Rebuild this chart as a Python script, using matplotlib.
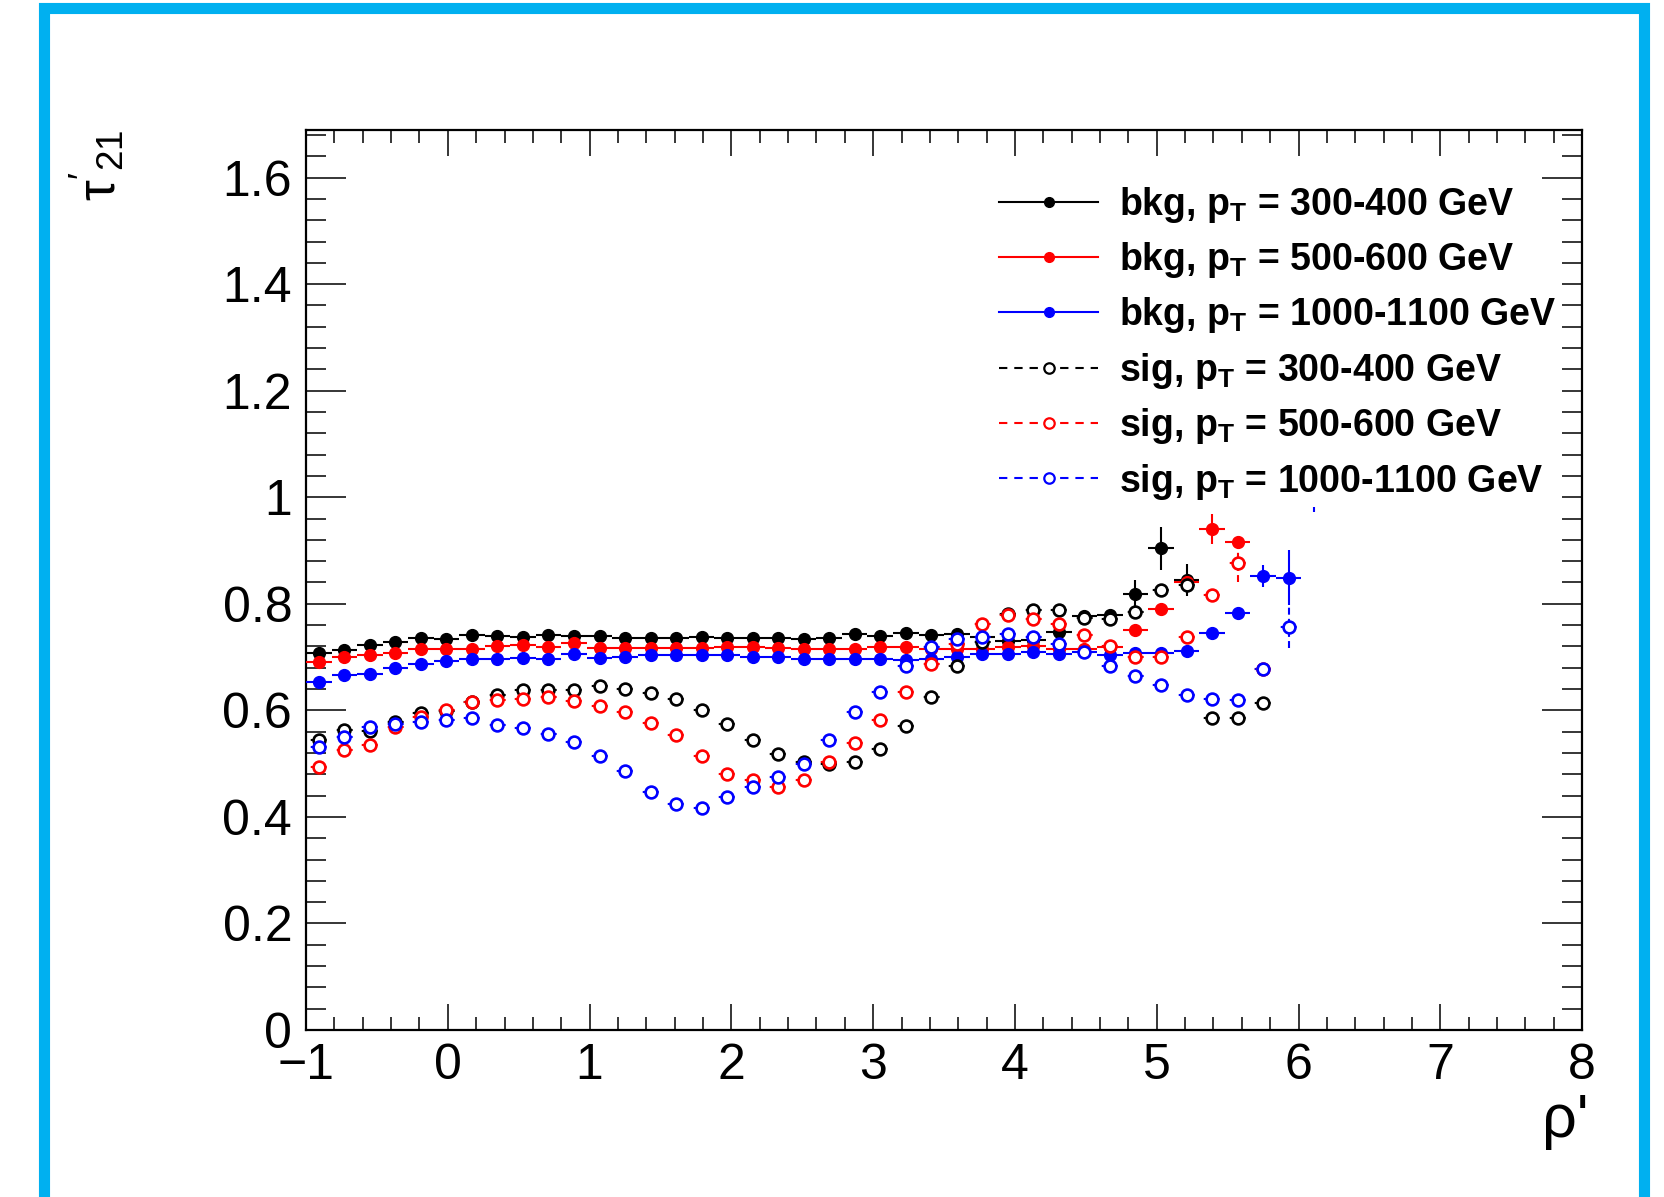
import numpy as np
import matplotlib
matplotlib.use('Agg')
import matplotlib.pyplot as plt
from matplotlib.lines import Line2D
from matplotlib.patches import Rectangle
from matplotlib.ticker import MultipleLocator

nan = float('nan')

# bin centres of rho' (50 bins from -1 to 8, only the filled ones)
rho = [-0.91, -0.73, -0.55, -0.37, -0.19, -0.01, 0.17, 0.35, 0.53, 0.71,
       0.89, 1.07, 1.25, 1.43, 1.61, 1.79, 1.97, 2.15, 2.33, 2.51,
       2.69, 2.87, 3.05, 3.23, 3.41, 3.59, 3.77, 3.95, 4.13, 4.31,
       4.49, 4.67, 4.85, 5.03, 5.21, 5.39, 5.57, 5.75, 5.93, 6.11]
half_bin = 0.09

bkg_300 = [0.707, 0.713, 0.722, 0.729, 0.735, 0.734, 0.741, 0.739, 0.737, 0.741,
           0.739, 0.739, 0.735, 0.735, 0.735, 0.737, 0.735, 0.735, 0.735, 0.734,
           0.735, 0.744, 0.739, 0.745, 0.741, 0.743, 0.737, 0.731, 0.732, 0.748,
           0.777, 0.779, 0.819, 0.904, 0.844, nan, nan, nan, nan, nan]
bkg_300_err = [0.003] * 29 + [0.005, 0.008, 0.010, 0.025, 0.040, 0.030, 0, 0, 0, 0, 0]

bkg_500 = [0.691, 0.700, 0.703, 0.707, 0.716, 0.716, 0.716, 0.720, 0.722, 0.719,
           0.727, 0.717, 0.717, 0.717, 0.717, 0.717, 0.719, 0.718, 0.717, 0.716,
           0.716, 0.716, 0.718, 0.718, 0.716, 0.715, 0.716, 0.718, 0.720, 0.716,
           0.716, 0.719, 0.750, 0.791, 0.841, 0.941, 0.916, nan, 1.126, nan]
bkg_500_err = [0.003] * 32 + [0.005, 0.008, 0.012, 0.028, 0.012, 0, 0.03, 0]

bkg_1000 = [0.654, 0.666, 0.669, 0.679, 0.687, 0.692, 0.697, 0.697, 0.699, 0.697,
            0.705, 0.699, 0.701, 0.703, 0.703, 0.703, 0.703, 0.700, 0.701, 0.697,
            0.697, 0.697, 0.697, 0.695, 0.697, 0.700, 0.705, 0.705, 0.709, 0.705,
            0.709, 0.703, 0.708, 0.708, 0.712, 0.745, 0.782, 0.852, 0.849, nan]
bkg_1000_err = [0.003] * 35 + [0.005, 0.008, 0.020, 0.052, 0]

sig_300 = [0.545, 0.563, 0.562, 0.578, 0.595, 0.599, 0.616, 0.628, 0.638, 0.638,
           0.638, 0.645, 0.641, 0.633, 0.622, 0.600, 0.575, 0.544, 0.518, 0.503,
           0.499, 0.503, 0.527, 0.570, 0.625, 0.684, 0.729, 0.780, 0.789, 0.789,
           0.774, 0.772, 0.785, 0.826, 0.835, 0.585, 0.585, 0.614, nan, nan]
sig_300_err = [0.003] * 32 + [0.008, 0.012, 0.015, 0.006, 0.006, 0.008, 0, 0]

sig_500 = [0.494, 0.525, 0.535, 0.569, 0.588, 0.600, 0.616, 0.619, 0.622, 0.625,
           0.618, 0.608, 0.597, 0.577, 0.553, 0.514, 0.480, 0.469, 0.457, 0.469,
           0.503, 0.539, 0.582, 0.635, 0.687, 0.725, 0.763, 0.779, 0.772, 0.763,
           0.741, 0.720, 0.700, 0.700, 0.738, 0.816, 0.876, 0.677, nan, nan]
sig_500_err = [0.003] * 34 + [0.006, 0.012, 0.035, 0.010, 0, 0]

sig_1000 = [0.532, 0.550, 0.569, 0.575, 0.578, 0.582, 0.585, 0.572, 0.566, 0.555,
            0.541, 0.514, 0.487, 0.447, 0.424, 0.416, 0.437, 0.457, 0.475, 0.499,
            0.544, 0.597, 0.635, 0.684, 0.719, 0.733, 0.738, 0.744, 0.738, 0.725,
            0.710, 0.684, 0.664, 0.647, 0.629, 0.622, 0.620, 0.677, 0.757, 1.022]
sig_1000_err = [0.003] * 36 + [0.006, 0.010, 0.040, 0.050]

labels = [r'bkg, p$_{\mathbf{T}}$ = 300-400 GeV',
          r'bkg, p$_{\mathbf{T}}$ = 500-600 GeV',
          r'bkg, p$_{\mathbf{T}}$ = 1000-1100 GeV',
          r'sig, p$_{\mathbf{T}}$ = 300-400 GeV',
          r'sig, p$_{\mathbf{T}}$ = 500-600 GeV',
          r'sig, p$_{\mathbf{T}}$ = 1000-1100 GeV']

plt.rcParams['font.family'] = ['Liberation Sans', 'DejaVu Sans']
plt.rcParams['mathtext.fontset'] = 'custom'
plt.rcParams['mathtext.rm'] = 'Liberation Sans'
plt.rcParams['mathtext.it'] = 'Liberation Sans:italic'
plt.rcParams['mathtext.bf'] = 'Liberation Sans:bold'
plt.rcParams['lines.scale_dashes'] = False

fig = plt.figure(figsize=(16.65, 11.97), dpi=100)
ax = fig.add_axes([0.1838, 0.1395, 0.7664, 0.7522])

series = [(bkg_300, bkg_300_err, 'black', True),
          (bkg_500, bkg_500_err, 'red', True),
          (bkg_1000, bkg_1000_err, 'blue', True),
          (sig_300, sig_300_err, 'black', False),
          (sig_500, sig_500_err, 'red', False),
          (sig_1000, sig_1000_err, 'blue', False)]

handles = []
for (vals, errs, col, filled), lab in zip(series, labels):
    if filled:
        eb = ax.errorbar(rho, vals, xerr=half_bin, yerr=errs, fmt='o', color=col,
                         ms=8.5, elinewidth=1.5, capsize=0, zorder=3)
        handles.append(Line2D([], [], color=col, lw=1.5, marker='o', ms=7))
    else:
        eb = ax.errorbar(rho, vals, xerr=half_bin, yerr=errs, fmt='o', color=col,
                         mfc='white', mec=col, mew=1.9, ms=8.5, elinewidth=1.5,
                         capsize=0, zorder=3)
        # dashed error bars, gap at the bin edges
        eb[2][0].set_linestyle((15.0, (11.5, 6.9)))
        eb[2][1].set_linestyle((0, (5, 3)))
        handles.append(Line2D([], [], color=col, lw=1.5, dashes=(6, 5), marker='o',
                              mfc='white', mec=col, mew=1.6, ms=7.5))

ax.set_xlim(-1, 8)
ax.set_ylim(0, 1.69)
ax.xaxis.set_major_locator(MultipleLocator(1))
ax.xaxis.set_minor_locator(MultipleLocator(0.2))
ax.yaxis.set_major_locator(MultipleLocator(0.2))
ax.yaxis.set_minor_locator(MultipleLocator(0.04))
ax.yaxis.set_major_formatter(plt.FuncFormatter(lambda v, p: '0' if abs(v) < 1e-9 else ('%g' % v)))
ax.tick_params(which='both', direction='in', top=True, right=True, width=1.1,
               labelsize=36)
ax.tick_params(axis='x', which='major', length=19, pad=9)
ax.tick_params(axis='x', which='minor', length=9.5)
ax.tick_params(axis='y', which='major', length=29, pad=10)
ax.tick_params(axis='y', which='minor', length=14.5)
for sp in ax.spines.values():
    sp.set_linewidth(1.6)

ax.set_xlabel("ρ'", fontsize=44, loc='right')
ax.xaxis.set_label_coords(1.005, -0.07)
ax.set_ylabel(r"$\mathrm{\tau}'_{21}$", fontsize=38, loc='top')
ax.yaxis.set_label_coords(-0.14, 1.0)

leg = ax.legend(handles, labels, loc='upper left', bbox_to_anchor=(0.5968, 0.8504),
                bbox_transform=fig.transFigure, frameon=True, facecolor='white',
                edgecolor='none', framealpha=1.0, fancybox=False,
                borderpad=0.15, borderaxespad=0,
                prop={'size': 27, 'weight': 'bold'}, handlelength=2.64,
                handletextpad=0.56, labelspacing=0.41)
leg.set_zorder(6)

# blue frame around the canvas
fig.patches.append(Rectangle((44.5 / 1665, -0.1), 1599.5 / 1665, 1.1 - 7.5 / 1197,
                             transform=fig.transFigure, fill=False,
                             edgecolor='#00b0f0', linewidth=8, clip_on=False))

fig.savefig('out.png', dpi=100)
